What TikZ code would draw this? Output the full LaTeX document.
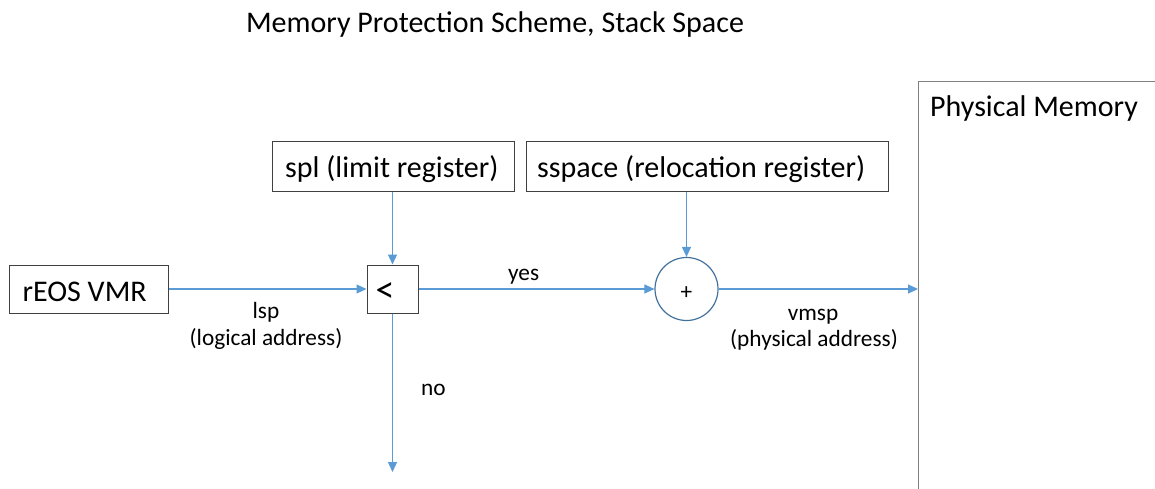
\documentclass[tikz,border=0pt]{standalone}
\usepackage{fontspec}
\setmainfont{Carlito}
\usetikzlibrary{arrows.meta}
\definecolor{flow}{HTML}{5B9BD5}
\definecolor{ring}{HTML}{41719C}
\definecolor{frame}{HTML}{404040}
\definecolor{memframe}{HTML}{808080}
\tikzset{
  bigtext/.style={font=\fontsize{30}{36}\selectfont, inner sep=0pt},
  smalltext/.style={font=\fontsize{23.3}{28}\selectfont, inner sep=0pt},
  regbox/.style={draw=frame, line width=1pt, rectangle, inner sep=0pt},
  link/.style={draw=flow, line width=1.1pt, -{Triangle[length=10pt,width=9pt]}},
}
\begin{document}
\begin{tikzpicture}[x=1pt, y=-1pt]
\useasboundingbox (0,0) rectangle (1155,489);

% title
\node[bigtext, anchor=base] (title) at (495,33) {Memory Protection Scheme, Stack Space};

% registers and blocks (frames)
\node[regbox, minimum width=159pt, minimum height=48pt] (vmr) at (88.5,289) {};
\node[regbox, minimum width=242pt, minimum height=49pt] (spl) at (393,166.5) {};
\node[regbox, minimum width=362pt, minimum height=49pt] (sspace) at (707,166.5) {};
\node[regbox, minimum width=51pt, minimum height=48pt] (cmp) at (392.5,289) {};
\node[draw=ring, line width=1.2pt, circle, minimum size=63pt, inner sep=0pt] (add) at (686.5,289) {};

% their captions, set flush left inside the frames
\node[bigtext, anchor=base west] (vmrtext) at (22.5,301) {rEOS VMR};
\node[bigtext, anchor=base west] (spltext) at (285,177) {spl (limit register)};
\node[bigtext, anchor=base west] (sspacetext) at (537,177) {sspace (relocation register)};
\node[inner sep=0pt, font=\fontsize{38}{44}\selectfont] (cmptext) at (385,292.5) {<};
\node[smalltext] (addtext) at (686.3,293.5) {+};

% physical memory region, running off the page edge
\begin{scope}
\clip (0,0) rectangle (1155,489);
\node[draw=memframe, line width=1.2pt, rectangle, minimum width=260pt, minimum height=430pt, anchor=north west, inner sep=0pt] (mem) at (918,81) {};
\end{scope}
\node[bigtext, anchor=base west] (memtext) at (930,117) {Physical Memory};

% dead end of the failed comparison
\coordinate (fault) at (392.5,472);

% connectors
\draw[link] (vmr) -- (cmp);
\draw[link] (spl.south -| cmp) -- (cmp);
\draw[link] (cmp) -- (add);
\draw[link] (sspace.south -| add) -- (add);
\draw[link] (add) -- (mem.west |- add);
\draw[link] (cmp) -- (fault);

% labels
\node[smalltext, anchor=base] (lsp) at (266,318.5) {lsp};
\node[smalltext, anchor=base] (lspsub) at (266,345) {(logical address)};
\node[smalltext, anchor=base west] (yes) at (508,280) {yes};
\node[smalltext, anchor=base] (vmsp) at (813,320) {vmsp};
\node[smalltext, anchor=base] (vmspsub) at (814,346.5) {(physical address)};
\node[smalltext, anchor=base west] (no) at (421,395) {no};
\end{tikzpicture}
\end{document}
